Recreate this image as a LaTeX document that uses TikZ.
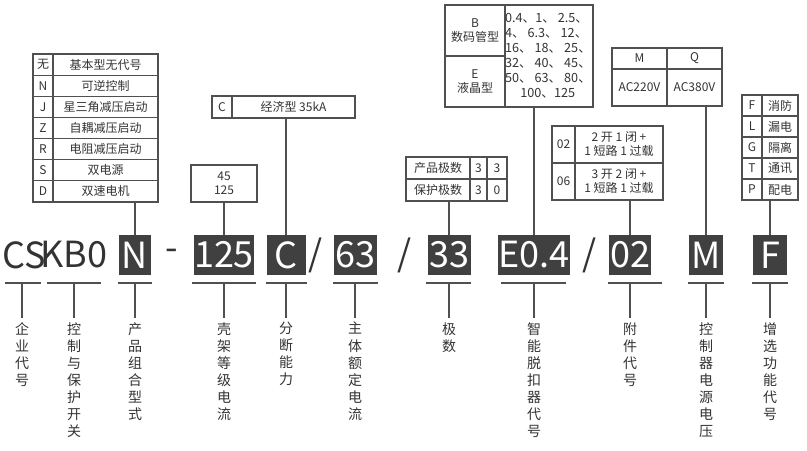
\documentclass[tikz,border=0pt]{standalone}
\usepackage{fontspec}
\setmainfont{Noto Sans CJK SC}
\definecolor{dk}{HTML}{404040}
\definecolor{ln}{HTML}{505050}
\definecolor{tx}{HTML}{333333}
\begin{document}
\begin{tikzpicture}[x=0.75pt,y=-0.75pt,
  codebox/.style={fill=dk,text=white,inner sep=0pt,font=\fontsize{27}{27}\selectfont,anchor=center},
  codetxt/.style={text=tx,inner sep=0pt,font=\fontsize{27}{27}\selectfont},
  tbl/.style={draw=ln,line width=0.9pt},
  cell/.style={text=tx,inner sep=0pt,font=\fontsize{9}{10.5}\selectfont,align=center},
  vlab/.style={text=tx,inner sep=0pt,anchor=north,align=center,font=\fontsize{10.5}{12.8}\selectfont},
  conn/.style={draw=ln,line width=0.9pt},
  uline/.style={draw=ln,line width=1pt}]
\useasboundingbox (0,0) rectangle (807,450);
% code row
\node[codetxt] (cs) at (24,255) {CS};
\node[codetxt] (kb) at (74,255) {KB0};
\node[codebox,minimum width=32*0.75pt,minimum height=40*0.75pt] (bN) at (135,255) {N};
\node[codetxt] (dash) at (172,255) {-};
\node[codebox,minimum width=60*0.75pt,minimum height=40*0.75pt] (b125) at (224,255) {125};
\node[codebox,minimum width=39*0.75pt,minimum height=40*0.75pt] (bC) at (286,255) {C};
\node[codetxt] (s1) at (316,255) {/};
\node[codebox,minimum width=43*0.75pt,minimum height=40*0.75pt] (b63) at (355,255) {63};
\node[codetxt] (s2) at (405,255) {/};
\node[codebox,minimum width=43*0.75pt,minimum height=40*0.75pt] (b33) at (449,255) {33};
\node[codebox,minimum width=63*0.75pt,minimum height=40*0.75pt] (bE) at (534,255) {E0.4};
\node[codetxt] (s3) at (590,255) {/};
\node[codebox,minimum width=42*0.75pt,minimum height=40*0.75pt] (b02) at (630,255) {02};
\node[codebox,minimum width=34*0.75pt,minimum height=40*0.75pt] (bM) at (706,255) {M};
\node[codebox,minimum width=34*0.75pt,minimum height=40*0.75pt] (bF) at (770,255) {F};
% underlines and drops
\foreach \a/\b/\x/\n in {5/41/22/u1,47/101/74/u2,118/152/135/u3,192/256/224/u4,266/307/286/u5,333/378/355/u6,426/471/449/u7,501/566/534/u8,608/662/630/u9,688/724/706/u10,752/788/770/u11}{
  \draw[uline] (\a,283) -- (\b,283);
  \coordinate (\n) at (\x,283);
  \coordinate (\n e) at (\x,318);
  \draw[conn] (\n) -- (\n e);
}
% vertical labels
\node[vlab] (l1) at (22,322) {企\\业\\代\\号};
\node[vlab] (l2) at (74,322) {控\\制\\与\\保\\护\\开\\关};
\node[vlab] (l3) at (135,322) {产\\品\\组\\合\\型\\式};
\node[vlab] (l4) at (224,322) {壳\\架\\等\\级\\电\\流};
\node[vlab] (l5) at (286,322) {分\\断\\能\\力};
\node[vlab] (l6) at (355,322) {主\\体\\额\\定\\电\\流};
\node[vlab] (l7) at (449,322) {极\\数};
\node[vlab] (l8) at (534,322) {智\\能\\脱\\扣\\器\\代\\号};
\node[vlab] (l9) at (630,322) {附\\件\\代\\号};
\node[vlab] (l10) at (706,322) {控\\制\\器\\电\\源\\电\\压};
\node[vlab] (l11) at (770,322) {增\\选\\功\\能\\代\\号};
% left table
\draw[tbl] (33,54) rectangle (158,202);
\draw[tbl] (53,54) -- (53,202);
\foreach \c/\t [count=\i from 0] in {无/基本型无代号,N/可逆控制,J/星三角减压启动,Z/自耦减压启动,R/电阻减压启动,S/双电源,D/双速电机}{
  \pgfmathsetmacro\yy{54+21.14*\i+10.57}
  \node[cell] at (43,\yy) {\c};
  \node[cell] at (105.5,\yy) {\t};
  \ifnum\i>0 \draw[tbl] (33,54+21.14*\i) -- (158,54+21.14*\i); \fi
}
\coordinate (tN) at (135,202);
\draw[conn] (tN) -- (bN.north);
% 45/125
\draw[tbl] (191,165) rectangle (257,202);
\node[cell] (t125) at (224,183.5) {45\\125};
\coordinate (t125b) at (224,202);
\draw[conn] (t125b) -- (b125.north);
% C table
\draw[tbl] (212,96) rectangle (355,118);
\draw[tbl] (232,96) -- (232,118);
\node[cell] at (222,107) {C};
\node[cell] at (293.5,107) {经济型 35kA};
\coordinate (tC) at (286,118);
\draw[conn] (tC) -- (bC.north);
% poles table
\draw[tbl] (406,157) rectangle (507,201);
\draw[tbl] (406,179) -- (507,179);
\draw[tbl] (470,157) -- (470,201);
\draw[tbl] (487,157) -- (487,201);
\node[cell] at (438,168) {产品极数};
\node[cell] at (438,190) {保护极数};
\node[cell] at (478.5,168) {3};
\node[cell] at (478.5,190) {3};
\node[cell] at (497,168) {3};
\node[cell] at (497,190) {0};
\coordinate (t33) at (449,201);
\draw[conn] (t33) -- (b33.north);
% E table
\draw[tbl] (445,5) rectangle (593,107);
\draw[tbl] (505,5) -- (505,107);
\draw[tbl] (445,56) -- (505,56);
\node[cell] at (475,30.5) {B\\数码管型};
\node[cell] at (475,81.5) {E\\液晶型};
\node[cell,align=left,font=\fontsize{9.5}{11.2}\selectfont] at (548,56) {0.4、1、 2.5、\\4、 6.3、 12、\\16、 18、 25、\\32、 40、 45、\\50、 63、 80、\\\hspace{1.2em}100、125};
\coordinate (tE) at (534,107);
\draw[conn] (tE) -- (bE.north);
% accessory table
\draw[tbl] (552,126) rectangle (663,200);
\draw[tbl] (552,163) -- (663,163);
\draw[tbl] (575,126) -- (575,200);
\node[cell] at (563.5,144.5) {02};
\node[cell] at (563.5,181.5) {06};
\node[cell] at (619,144.5) {2 开 1 闭 +\\1 短路 1 过载};
\node[cell] at (619,181.5) {3 开 2 闭 +\\1 短路 1 过载};
\coordinate (t02) at (630,200);
\draw[conn] (t02) -- (b02.north);
% M table
\draw[tbl] (612,48) rectangle (722,106);
\draw[tbl] (612,69) -- (722,69);
\draw[tbl] (667,48) -- (667,106);
\node[cell] at (639.5,58.5) {M};
\node[cell] at (694.5,58.5) {Q};
\node[cell] at (639.5,87.5) {AC220V};
\node[cell] at (694.5,87.5) {AC380V};
\coordinate (tM) at (706,106);
\draw[conn] (tM) -- (bM.north);
% F table
\draw[tbl] (742,95) rectangle (798,200);
\draw[tbl] (762,95) -- (762,200);
\foreach \c/\t [count=\i from 0] in {F/消防,L/漏电,G/隔离,T/通讯,P/配电}{
  \pgfmathsetmacro\yy{95+21*\i+10.5}
  \node[cell] at (752,\yy) {\c};
  \node[cell] at (780,\yy) {\t};
  \ifnum\i>0 \draw[tbl] (742,95+21*\i) -- (798,95+21*\i); \fi
}
\coordinate (tF) at (770,200);
\draw[conn] (tF) -- (bF.north);
\end{tikzpicture}
\end{document}
